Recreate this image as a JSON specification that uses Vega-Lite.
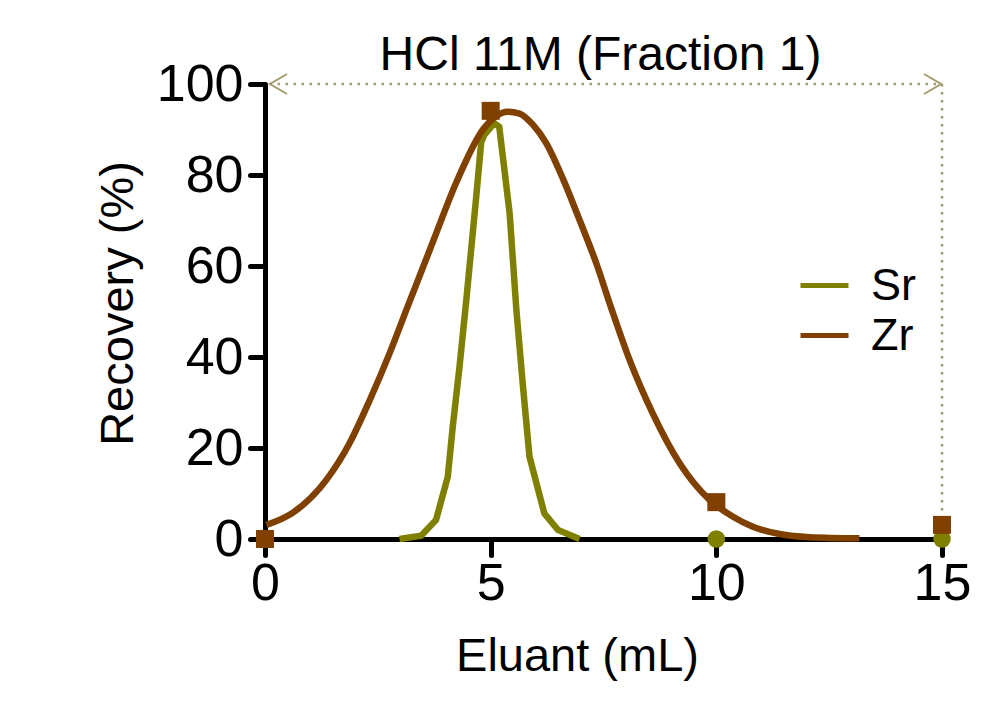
{
  "$schema": "https://vega.github.io/schema/vega-lite/v6.json",
  "width": 677,
  "height": 455,
  "autosize": "none",
  "padding": {"left": 265, "top": 84, "right": 52, "bottom": 162},
  "background": "white",
  "title": {"text": "HCl 11M (Fraction 1)", "fontSize": 48, "font": "Liberation Sans", "fontWeight": "normal", "color": "black", "anchor": "middle", "dy": 26, "dx": -3},
  "config": {
    "view": {"stroke": null},
    "font": "Liberation Sans",
    "axis": {
      "grid": false,
      "labelFlush": false,
      "labelOverlap": false,
      "domainColor": "black",
      "domainWidth": 5,
      "tickColor": "black",
      "tickWidth": 5,
      "tickCap": "round",
      "labelColor": "black",
      "labelFont": "Liberation Sans",
      "labelFontSize": 52,
      "titleFont": "Liberation Sans",
      "titleFontSize": 47,
      "titleFontWeight": "normal",
      "titleColor": "black"
    },
    "legend": {
      "orient": "none",
      "legendX": 533,
      "legendY": 175,
      "padding": 0,
      "symbolType": "stroke",
      "symbolSize": 2304,
      "symbolStrokeWidth": 5,
      "labelFont": "Liberation Sans",
      "labelFontSize": 45,
      "labelColor": "black",
      "labelOffset": 20,
      "rowPadding": -5
    }
  },
  "datasets": {
    "curves": [
      {"element": "Sr", "mL": 2.98, "rec": 0.0},
      {"element": "Sr", "mL": 3.46, "rec": 0.7},
      {"element": "Sr", "mL": 3.79, "rec": 4.2},
      {"element": "Sr", "mL": 4.05, "rec": 13.7},
      {"element": "Sr", "mL": 4.16, "rec": 24.7},
      {"element": "Sr", "mL": 4.31, "rec": 37.9},
      {"element": "Sr", "mL": 4.46, "rec": 52.5},
      {"element": "Sr", "mL": 4.68, "rec": 75.2},
      {"element": "Sr", "mL": 4.79, "rec": 87.2},
      {"element": "Sr", "mL": 4.86, "rec": 88.8},
      {"element": "Sr", "mL": 5.08, "rec": 91.4},
      {"element": "Sr", "mL": 5.19, "rec": 90.6},
      {"element": "Sr", "mL": 5.42, "rec": 71.6},
      {"element": "Sr", "mL": 5.57, "rec": 50.3},
      {"element": "Sr", "mL": 5.71, "rec": 34.2},
      {"element": "Sr", "mL": 5.86, "rec": 18.1},
      {"element": "Sr", "mL": 6.19, "rec": 5.6},
      {"element": "Sr", "mL": 6.49, "rec": 2.0},
      {"element": "Sr", "mL": 6.97, "rec": 0.0},
      {"element": "Zr", "mL": 0.03, "rec": 3.1},
      {"element": "Zr", "mL": 0.62, "rec": 5.8},
      {"element": "Zr", "mL": 1.36, "rec": 13.0},
      {"element": "Zr", "mL": 1.87, "rec": 21.0},
      {"element": "Zr", "mL": 2.32, "rec": 30.5},
      {"element": "Zr", "mL": 2.76, "rec": 40.8},
      {"element": "Zr", "mL": 3.13, "rec": 50.3},
      {"element": "Zr", "mL": 3.72, "rec": 65.3},
      {"element": "Zr", "mL": 4.24, "rec": 78.4},
      {"element": "Zr", "mL": 4.83, "rec": 90.0},
      {"element": "Zr", "mL": 5.1, "rec": 92.8},
      {"element": "Zr", "mL": 5.38, "rec": 93.9},
      {"element": "Zr", "mL": 5.64, "rec": 93.5},
      {"element": "Zr", "mL": 5.94, "rec": 91.0},
      {"element": "Zr", "mL": 6.23, "rec": 87.0},
      {"element": "Zr", "mL": 6.6, "rec": 79.2},
      {"element": "Zr", "mL": 6.97, "rec": 70.1},
      {"element": "Zr", "mL": 7.34, "rec": 60.6},
      {"element": "Zr", "mL": 7.67, "rec": 50.8},
      {"element": "Zr", "mL": 8.08, "rec": 39.3},
      {"element": "Zr", "mL": 8.59, "rec": 27.6},
      {"element": "Zr", "mL": 9.19, "rec": 16.6},
      {"element": "Zr", "mL": 9.85, "rec": 8.6},
      {"element": "Zr", "mL": 10.37, "rec": 4.9},
      {"element": "Zr", "mL": 10.81, "rec": 2.7},
      {"element": "Zr", "mL": 11.4, "rec": 1.1},
      {"element": "Zr", "mL": 12.07, "rec": 0.4},
      {"element": "Zr", "mL": 13.17, "rec": 0.15}
    ],
    "points": [
      {"element": "Sr", "mL": 0, "rec": 0},
      {"element": "Sr", "mL": 5, "rec": 94},
      {"element": "Sr", "mL": 10, "rec": 0},
      {"element": "Sr", "mL": 15, "rec": 0},
      {"element": "Zr", "mL": 0, "rec": 0},
      {"element": "Zr", "mL": 5, "rec": 94.1},
      {"element": "Zr", "mL": 10, "rec": 8.1},
      {"element": "Zr", "mL": 15, "rec": 3.1}
    ]
  },
  "encoding": {
    "x": {"field": "mL", "type": "quantitative", "scale": {"domain": [0, 15], "nice": false, "zero": false}, "axis": {"values": [0, 5, 10, 15], "title": "Eluant (mL)", "tickSize": 16, "labelPadding": 3, "titleX": 312, "titleY": 131, "titleBaseline": "alphabetic", "titleAlign": "center", "titleAnchor": null}},
    "y": {"field": "rec", "type": "quantitative", "scale": {"domain": [0, 100], "nice": false}, "axis": {"values": [0, 20, 40, 60, 80, 100], "title": "Recovery (%)", "tickSize": 15, "labelPadding": 7, "titleAngle": -90, "titleX": -133, "titleY": 219, "titleBaseline": "alphabetic", "titleAlign": "center"}}
  },
  "layer": [
    {
      "data": {"values": [{"mL": 0.1, "mL2": 15, "rec": 100}]},
      "mark": {"type": "rule", "color": "#a39b6b", "strokeWidth": 2.5, "strokeDash": [2.5, 5.5]},
      "encoding": {"x2": {"field": "mL2"}}
    },
    {
      "data": {"values": [{"mL": 15, "rec": 100, "rec2": 5}]},
      "mark": {"type": "rule", "color": "#a39b6b", "strokeWidth": 2.5, "strokeDash": [2.5, 5.5]},
      "encoding": {"y2": {"field": "rec2"}}
    },
    {
      "data": {"values": [{"mL": 0.3, "rec": 100}]},
      "mark": {"type": "point", "shape": "M 0.85 -1 L -0.85 0 L 0.85 1", "filled": false, "size": 400, "stroke": "#a39b6b", "strokeWidth": 2, "opacity": 1}
    },
    {
      "data": {"values": [{"mL": 14.79, "rec": 100}]},
      "mark": {"type": "point", "shape": "M -0.85 -1 L 0.85 0 L -0.85 1", "filled": false, "size": 400, "stroke": "#a39b6b", "strokeWidth": 2, "opacity": 1}
    },
    {
      "data": {"name": "curves"},
      "transform": [{"filter": "datum.element === 'Sr'"}],
      "mark": {"type": "line", "strokeWidth": 6.5, "interpolate": "linear"},
      "encoding": {"color": {"field": "element", "type": "nominal", "scale": {"domain": ["Sr", "Zr"], "range": ["#808000", "#804000"]}, "legend": {"title": null}}}
    },
    {
      "data": {"name": "curves"},
      "transform": [{"filter": "datum.element === 'Zr'"}],
      "mark": {"type": "line", "strokeWidth": 6.5, "interpolate": "monotone"},
      "encoding": {"color": {"field": "element", "type": "nominal", "scale": {"domain": ["Sr", "Zr"], "range": ["#808000", "#804000"]}, "legend": {"title": null}}}
    },
    {
      "data": {"name": "points"},
      "transform": [{"filter": "datum.element === 'Sr'"}],
      "mark": {"type": "point", "shape": "circle", "filled": true, "size": 306, "opacity": 1, "color": "#808000"}
    },
    {
      "data": {"name": "points"},
      "transform": [{"filter": "datum.element === 'Zr'"}],
      "mark": {"type": "point", "shape": "square", "filled": true, "size": 324, "opacity": 1, "color": "#804000"}
    }
  ]
}
